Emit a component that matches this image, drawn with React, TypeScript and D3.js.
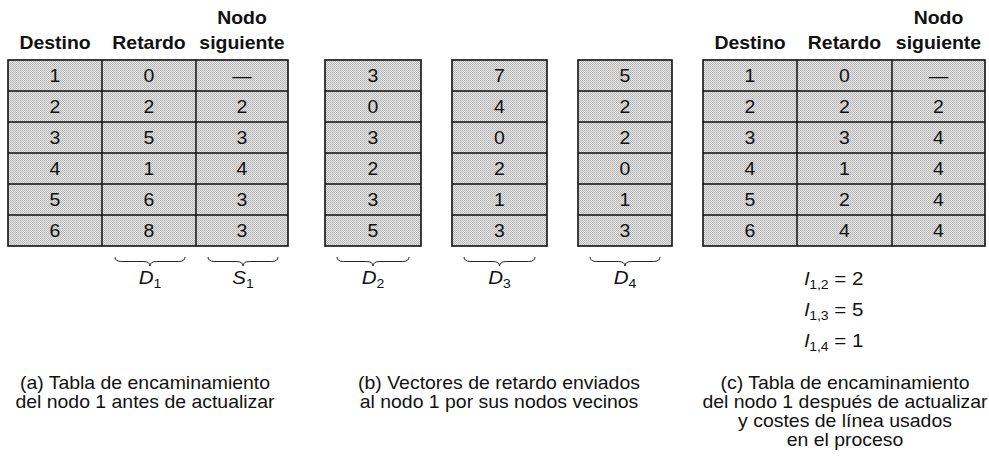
import React from 'react';
import * as d3 from 'd3';

// routing table data (node 1)
const destinations = [1, 2, 3, 4, 5, 6];
const delayBefore = ['0', '2', '5', '1', '6', '8'];
const nextBefore = ['—', '2', '3', '4', '3', '3'];
const vectorD2 = ['3', '0', '3', '2', '3', '5'];
const vectorD3 = ['7', '4', '0', '2', '1', '3'];
const vectorD4 = ['5', '2', '2', '0', '1', '3'];
const delayAfter = ['0', '2', '3', '1', '2', '4'];
const nextAfter = ['—', '2', '4', '4', '4', '4'];
const headers = ['Destino', 'Retardo', 'siguiente'];
const linkCosts = [
  { sub: '1,2', value: 2 },
  { sub: '1,3', value: 5 },
  { sub: '1,4', value: 1 },
];
const captionA = ['(a) Tabla de encaminamiento', 'del nodo 1 antes de actualizar'];
const captionB = ['(b) Vectores de retardo enviados', 'al nodo 1 por sus nodos vecinos'];
const captionC = [
  '(c) Tabla de encaminamiento',
  'del nodo 1 después de actualizar',
  'y costes de línea usados',
  'en el proceso',
];

const FONT = '"Liberation Sans", Arial, Helvetica, sans-serif';
const SX = 1.08;

const y = d3.scaleBand<number>().domain(destinations).range([60, 246]);

const Txt: React.FC<{ x: number; y: number; size: number; bold?: boolean; children: React.ReactNode }> = ({
  x, y: ty, size, bold, children,
}) => (
  <text
    transform={`translate(${x},${ty}) scale(${SX},1)`}
    textAnchor="middle"
    dominantBaseline="central"
    fontFamily={FONT}
    fontSize={size}
    fontWeight={bold ? 'bold' : 'normal'}
    fill="#111"
  >
    {children}
  </text>
);

const Column: React.FC<{ x0: number; x1: number; values: string[] }> = ({ x0, x1, values }) => (
  <g>
    {values.map((v, i) => (
      <Txt key={i} x={(x0 + x1) / 2} y={y(destinations[i])! + y.bandwidth() / 2 + 0.5} size={18}>
        {v}
      </Txt>
    ))}
  </g>
);

const Grid: React.FC<{ edges: number[] }> = ({ edges }) => {
  const x0 = edges[0];
  const x1 = edges[edges.length - 1];
  const [top, bottom] = y.range();
  return (
    <g stroke="#111" fill="none">
      <rect x={x0} y={top} width={x1 - x0} height={bottom - top} fill="url(#halftone)" strokeWidth={1.6} />
      {destinations.slice(1).map((d) => (
        <line key={d} x1={x0} x2={x1} y1={y(d)} y2={y(d)} strokeWidth={1.5} />
      ))}
      {edges.slice(1, -1).map((e) => (
        <line key={e} x1={e} x2={e} y1={top} y2={bottom} strokeWidth={1.5} />
      ))}
    </g>
  );
};

function bracePath(x0: number, x1: number, y0: number, h: number) {
  const p = d3.path();
  const xm = (x0 + x1) / 2;
  const r = h / 2;
  p.moveTo(x0, y0);
  p.quadraticCurveTo(x0, y0 + r, x0 + r * 1.5, y0 + r);
  p.lineTo(xm - r * 1.5, y0 + r);
  p.quadraticCurveTo(xm, y0 + r, xm, y0 + h);
  p.quadraticCurveTo(xm, y0 + r, xm + r * 1.5, y0 + r);
  p.lineTo(x1 - r * 1.5, y0 + r);
  p.quadraticCurveTo(x1, y0 + r, x1, y0);
  return p.toString();
}

const Brace: React.FC<{ x0: number; x1: number; label: string; sub: string }> = ({ x0, x1, label, sub }) => (
  <g>
    <path d={bracePath(x0, x1, 257, 9)} fill="none" stroke="#222" strokeWidth={1} />
    <text
      transform={`translate(${(x0 + x1) / 2},${284}) scale(${SX},1)`}
      textAnchor="middle"
      fontFamily={FONT}
      fontSize={19}
      fill="#111"
    >
      <tspan fontStyle="italic">{label}</tspan>
      <tspan fontSize={13} dy={4}>{sub}</tspan>
    </text>
  </g>
);

const Headers: React.FC<{ centers: number[] }> = ({ centers }) => (
  <g>
    <Txt x={centers[2]} y={18} size={18} bold>Nodo</Txt>
    {headers.map((h, i) => (
      <Txt key={h} x={centers[i]} y={43} size={18} bold>{h}</Txt>
    ))}
  </g>
);

const Caption: React.FC<{ x: number; lines: string[] }> = ({ x, lines }) => (
  <g>
    {lines.map((l, i) => (
      <Txt key={i} x={x} y={383 + i * 19} size={18}>{l}</Txt>
    ))}
  </g>
);

const edgesA = [8, 102, 196, 288];
const edgesC = [703, 797, 892, 985];
const vecCols = [
  { edges: [325, 421], values: vectorD2, sub: '2' },
  { edges: [452, 547], values: vectorD3, sub: '3' },
  { edges: [578, 672], values: vectorD4, sub: '4' },
];
const mid = (e: number[], i: number) => (e[i] + e[i + 1]) / 2;

export default function App() {
  return (
    <svg width={989} height={459} style={{ display: 'block', position: 'absolute', left: 0, top: 0, background: '#fff' }}>
      <defs>
        <pattern id="halftone" width={2} height={2} patternUnits="userSpaceOnUse">
          <rect width={2} height={2} fill="#e6e6e6" />
          <rect width={1} height={1} fill="#b4b4b4" />
          <rect x={1} y={1} width={1} height={1} fill="#bcbcbc" />
        </pattern>
      </defs>

      {/* (a) */}
      <Headers centers={[0, 1, 2].map((i) => mid(edgesA, i))} />
      <Grid edges={edgesA} />
      <Column x0={edgesA[0]} x1={edgesA[1]} values={destinations.map(String)} />
      <Column x0={edgesA[1]} x1={edgesA[2]} values={delayBefore} />
      <Column x0={edgesA[2]} x1={edgesA[3]} values={nextBefore} />
      <Brace x0={115} x1={185} label="D" sub="1" />
      <Brace x0={208} x1={278} label="S" sub="1" />
      <Caption x={145} lines={captionA} />

      {/* (b) */}
      {vecCols.map((c) => (
        <g key={c.sub}>
          <Grid edges={c.edges} />
          <Column x0={c.edges[0]} x1={c.edges[1]} values={c.values} />
          <Brace x0={c.edges[0] + 12} x1={c.edges[1] - 12} label="D" sub={c.sub} />
        </g>
      ))}
      <Caption x={499} lines={captionB} />

      {/* (c) */}
      <Headers centers={[0, 1, 2].map((i) => mid(edgesC, i))} />
      <Grid edges={edgesC} />
      <Column x0={edgesC[0]} x1={edgesC[1]} values={destinations.map(String)} />
      <Column x0={edgesC[1]} x1={edgesC[2]} values={delayAfter} />
      <Column x0={edgesC[2]} x1={edgesC[3]} values={nextAfter} />
      {linkCosts.map((l, i) => (
        <text
          key={l.sub}
          transform={`translate(${834},${285 + i * 31}) scale(${SX},1)`}
          textAnchor="middle"
          fontFamily={FONT}
          fontSize={19}
          fill="#111"
        >
          <tspan fontStyle="italic">l</tspan>
          <tspan fontSize={13} dy={4}>{l.sub}</tspan>
          <tspan dy={-4}>{` = ${l.value}`}</tspan>
        </text>
      ))}
      <Caption x={845} lines={captionC} />
    </svg>
  );
}
